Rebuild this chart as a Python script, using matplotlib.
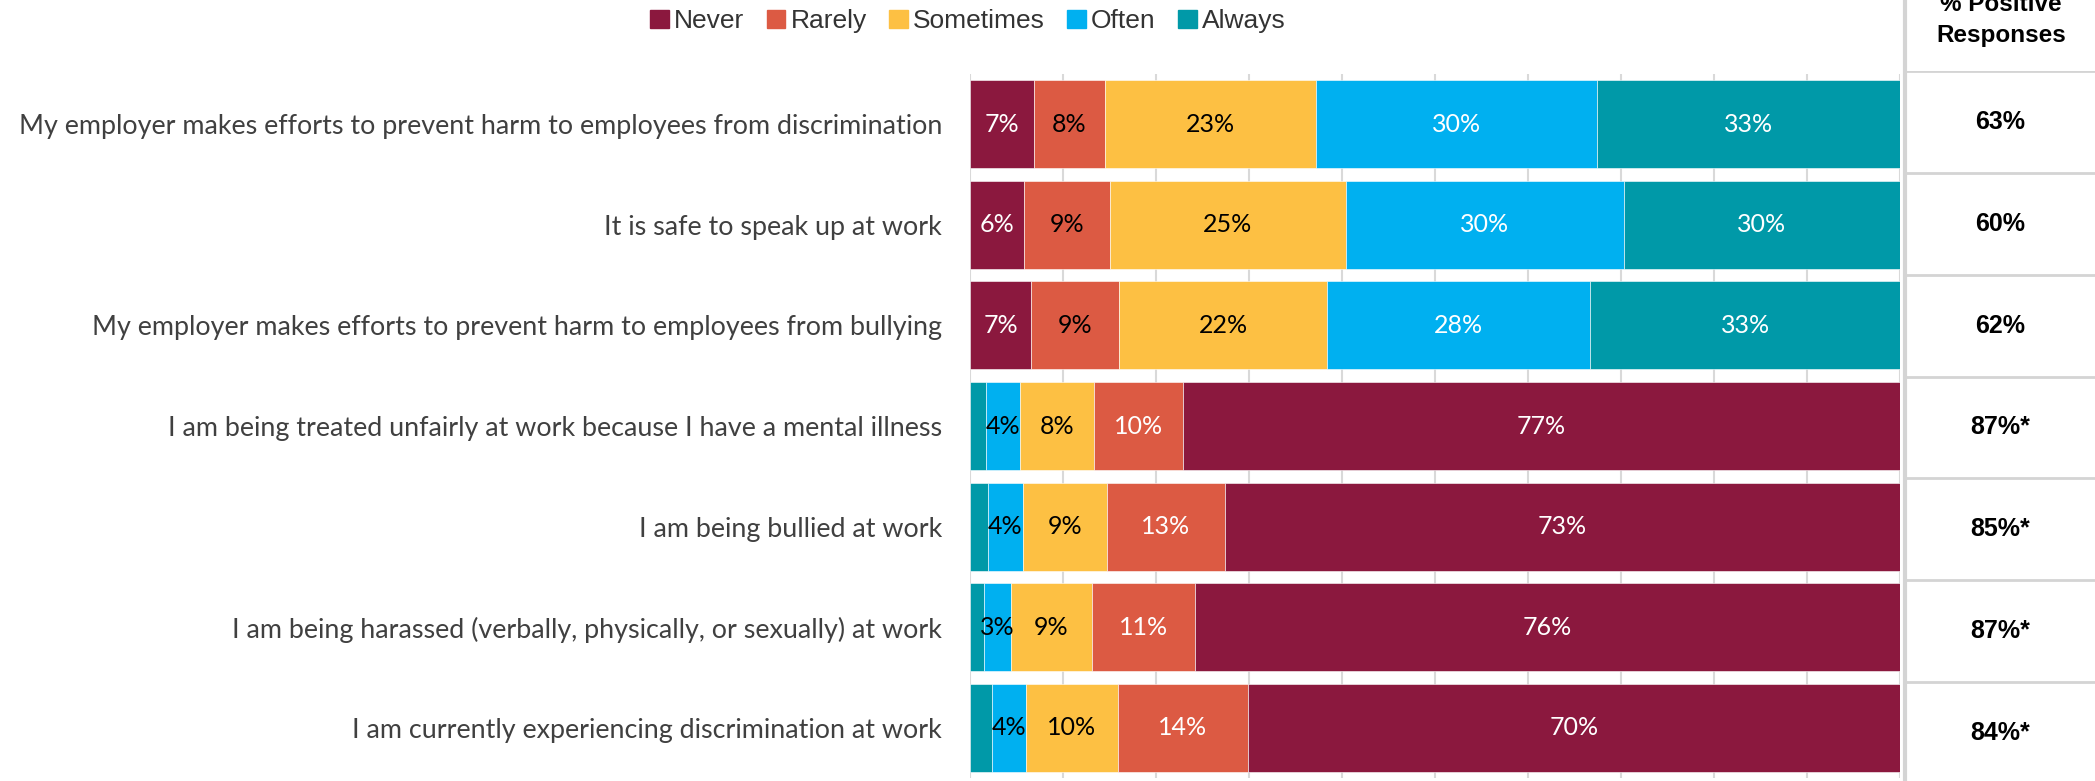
import numpy as np
import matplotlib.pyplot as plt
from matplotlib.patches import Patch
from matplotlib.lines import Line2D

items = [
    'My employer makes efforts to prevent harm to employees from discrimination',
    'It is safe to speak up at work',
    'My employer makes efforts to prevent harm to employees from bullying',
    'I am being treated unfairly at work because I have a mental illness',
    'I am being bullied at work',
    'I am being harassed (verbally, physically, or sexually) at work',
    'I am currently experiencing discrimination at work',
]
# negative items are stacked the other way round (Always first)
reverse_coded = [False, False, False, True, True, True, True]

never = [6.9, 5.8, 6.6, 77.1, 72.6, 75.8, 70.1]
rarely = [7.6, 9.2, 9.4, 9.6, 12.7, 11.1, 14.0]
sometimes = [22.7, 25.4, 22.4, 7.9, 9.0, 8.7, 9.9]
often = [30.2, 29.9, 28.3, 3.7, 3.8, 2.9, 3.6]
always = [32.6, 29.7, 33.3, 1.7, 1.9, 1.5, 2.4]

positive = ['63%', '60%', '62%', '87%*', '85%*', '87%*', '84%*']

names = ['Never', 'Rarely', 'Sometimes', 'Often', 'Always']
series = [never, rarely, sometimes, often, always]
colors = ['#8B183E', '#DC5A43', '#FDC043', '#00B0F0', '#0099A8']
txt_pos = ['white', 'black', 'black', 'white', 'white']
txt_neg = ['white', 'white', 'black', 'black', 'black']

W, H = 2095, 781
fig = plt.figure(figsize=(W / 100, H / 100), dpi=100)

ax = fig.add_axes([970 / W, 3 / H, 930 / W, 704 / H])
for i in range(len(items)):
    order = list(range(5))
    if reverse_coded[i]:
        order = order[::-1]
    tcol = txt_neg if reverse_coded[i] else txt_pos
    left = 0
    for k in order:
        v = series[k][i]
        ax.barh(i, v, left=left, height=0.875, color=colors[k],
                edgecolor='white', linewidth=0.4)
        if v >= 2.5:
            ax.text(left + v / 2, i, f'{round(v)}%', ha='center', va='center',
                    fontsize=18, family='Lato', color=tcol[k])
        left += v

ax.set_xlim(0, 100)
ax.set_ylim(len(items) - 0.5, -0.5)
ax.set_xticks(np.arange(0, 101, 10))
ax.xaxis.grid(True, color='#d9d9d9', linewidth=1.5)
ax.set_axisbelow(True)
for s in ax.spines.values():
    s.set_visible(False)
ax.set_yticks(range(len(items)))
ax.set_yticklabels(items, fontsize=19.4, family='Lato', color='#404040')
ax.tick_params(length=0, labelbottom=False, pad=20)

# right hand panel with % positive responses
pan = fig.add_axes([1905 / W, -3 / H, 190 / W, 713 / H])
pan.set_xlim(0, 1)
pan.set_ylim(len(items) - 0.5, -0.5)
pan.axis('off')
pan.hlines(np.arange(-0.5, len(items)), 0, 1, color='#d4d4d4', linewidth=2)
for i, p in enumerate(positive):
    pan.text(0.5, i, p, ha='center', va='center', fontsize=18,
             fontweight='bold', family='Liberation Sans', color='black')
fig.add_artist(Line2D([1905 / W] * 2, [0, 1], transform=fig.transFigure,
                      color='#d4d4d4', linewidth=3))
fig.text(2001 / W, 1 - 47 / H, '% Positive\nResponses', ha='center',
         va='bottom', fontsize=17.5, fontweight='bold', family='Liberation Sans',
         linespacing=1.45)

handles = [Patch(color=c, label=n) for c, n in zip(colors, names)]
fig.legend(handles=handles, loc='center', bbox_to_anchor=(968 / W, 1 - 21 / H),
           ncol=5, frameon=False, handlelength=0.7, handleheight=0.7,
           handletextpad=0.2, columnspacing=0.85, labelcolor='#333333',
           prop={'family': 'Liberation Sans', 'size': 19})

fig.savefig('out.png', dpi=100)
